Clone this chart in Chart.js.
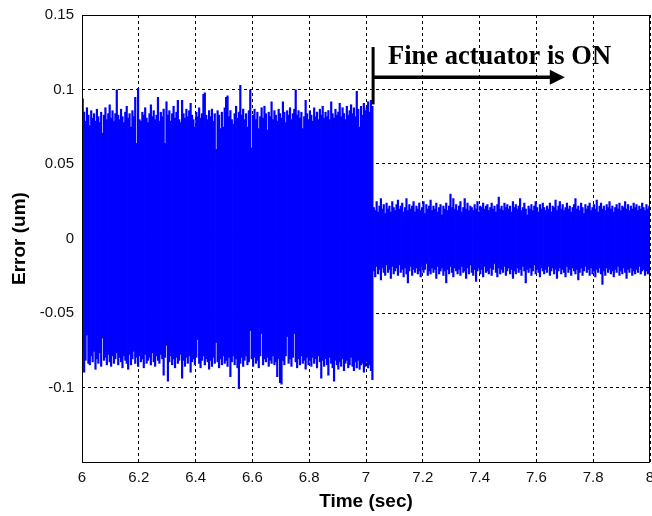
<!DOCTYPE html>
<html>
<head>
<meta charset="utf-8">
<title>Error (um) vs Time (sec)</title>
<script src="https://cdn.jsdelivr.net/npm/chart.js@4/dist/chart.umd.min.js"></script>
<style>
  html, body { margin: 0; padding: 0; background: #fff; }
  canvas { display: block; }
</style>
</head>
<body>
<canvas id="errorChart" width="652" height="516"></canvas>
<script>
// Axis ticks
const xTicks = [6, 6.2, 6.4, 6.6, 6.8, 7, 7.2, 7.4, 7.6, 7.8, 8];
const yTicks = [-0.15, -0.1, -0.05, 0, 0.05, 0.1, 0.15];

// Sampling of the tracking error record (sec)
const sampleStep = 0.005;
const coarseStart = 6.0;   // coarse actuator only
const fineStart = 7.025;   // fine actuator switched on

// Per-interval peak (high) and trough (low) of the error, um — coarse actuator only
const coarseHigh = [
  0.094, 0.085, 0.079, 0.088, 0.083, 0.076, 0.086, 0.081, 0.084, 0.079,
  0.087, 0.082, 0.078, 0.085, 0.071, 0.083, 0.088, 0.080, 0.084, 0.090,
  0.081, 0.086, 0.079, 0.084, 0.100, 0.083, 0.080, 0.087, 0.082, 0.078,
  0.085, 0.089, 0.081, 0.084, 0.075, 0.086, 0.082, 0.095, 0.064, 0.101,
  0.080, 0.079, 0.085, 0.083, 0.088, 0.081, 0.078, 0.084, 0.090, 0.082,
  0.086, 0.080, 0.083, 0.095, 0.079, 0.085, 0.082, 0.087, 0.064, 0.092,
  0.083, 0.086, 0.079, 0.084, 0.089, 0.081, 0.085, 0.093, 0.080, 0.078,
  0.093, 0.084, 0.081, 0.087, 0.082, 0.086, 0.091, 0.083, 0.080, 0.075,
  0.085, 0.082, 0.088, 0.081, 0.084, 0.097, 0.098, 0.083, 0.080, 0.086,
  0.082, 0.087, 0.079, 0.084, 0.060, 0.086, 0.083, 0.074, 0.085, 0.075,
  0.088, 0.095, 0.096, 0.082, 0.086, 0.080, 0.077, 0.084, 0.089, 0.081,
  0.085, 0.103, 0.083, 0.087, 0.080, 0.084, 0.075, 0.086, 0.100, 0.061,
  0.083, 0.087, 0.080, 0.085, 0.074, 0.082, 0.088, 0.081, 0.089, 0.084,
  0.073, 0.085, 0.082, 0.092, 0.080, 0.086, 0.083, 0.079, 0.087, 0.084,
  0.081, 0.092, 0.085, 0.078, 0.086, 0.083, 0.088, 0.080, 0.084, 0.087,
  0.100, 0.083, 0.086, 0.081, 0.085, 0.074, 0.082, 0.093, 0.084, 0.080,
  0.086, 0.083, 0.079, 0.088, 0.082, 0.085, 0.080, 0.087, 0.083, 0.089,
  0.081, 0.085, 0.082, 0.086, 0.080, 0.092, 0.084, 0.081, 0.087, 0.083,
  0.085, 0.091, 0.082, 0.088, 0.084, 0.080, 0.089, 0.083, 0.086, 0.090,
  0.084, 0.088, 0.082, 0.099, 0.087, 0.075, 0.089, 0.083, 0.091, 0.086,
  0.088, 0.092, 0.085, 0.093, 0.089
];
const coarseLow = [
  -0.078, -0.090, -0.082, -0.065, -0.084, -0.085, -0.079, -0.083, -0.076, -0.088,
  -0.081, -0.084, -0.077, -0.086, -0.067, -0.082, -0.080, -0.085, -0.078, -0.083,
  -0.086, -0.079, -0.084, -0.081, -0.077, -0.085, -0.080, -0.083, -0.087, -0.079,
  -0.082, -0.084, -0.088, -0.078, -0.085, -0.081, -0.076, -0.084, -0.080, -0.086,
  -0.079, -0.083, -0.081, -0.087, -0.078, -0.084, -0.082, -0.080, -0.085, -0.077,
  -0.083, -0.086, -0.079, -0.082, -0.084, -0.078, -0.081, -0.092, -0.080, -0.072,
  -0.096, -0.083, -0.079, -0.085, -0.081, -0.087, -0.080, -0.084, -0.082, -0.078,
  -0.094, -0.082, -0.086, -0.080, -0.084, -0.079, -0.090, -0.083, -0.081, -0.085,
  -0.080, -0.068, -0.084, -0.087, -0.082, -0.079, -0.085, -0.081, -0.083, -0.088,
  -0.082, -0.086, -0.080, -0.084, -0.070, -0.083, -0.087, -0.081, -0.085, -0.079,
  -0.084, -0.082, -0.086, -0.080, -0.093, -0.083, -0.079, -0.085, -0.081, -0.087,
  -0.101, -0.084, -0.080, -0.086, -0.082, -0.079, -0.085, -0.083, -0.062, -0.081,
  -0.086, -0.080, -0.084, -0.082, -0.087, -0.079, -0.064, -0.085, -0.081, -0.083,
  -0.080, -0.086, -0.082, -0.084, -0.079, -0.085, -0.083, -0.093, -0.081, -0.097,
  -0.098, -0.082, -0.085, -0.079, -0.066, -0.084, -0.081, -0.086, -0.080, -0.064,
  -0.083, -0.087, -0.081, -0.085, -0.079, -0.084, -0.082, -0.088, -0.080, -0.085,
  -0.082, -0.086, -0.080, -0.084, -0.081, -0.087, -0.079, -0.083, -0.094, -0.082,
  -0.086, -0.081, -0.085, -0.092, -0.080, -0.084, -0.087, -0.096, -0.082, -0.085,
  -0.088, -0.083, -0.086, -0.081, -0.089, -0.084, -0.082, -0.087, -0.085, -0.080,
  -0.086, -0.089, -0.083, -0.087, -0.082, -0.088, -0.085, -0.084, -0.090, -0.086,
  -0.083, -0.087, -0.085, -0.089, -0.095
];

// Per-interval peak (high) and trough (low) of the error, um — fine actuator on
const fineHigh = [
  0.021, 0.019, 0.025, 0.018, 0.022, 0.027, 0.020, 0.023, 0.017, 0.024,
  0.020, 0.022, 0.018, 0.025, 0.021, 0.019, 0.023, 0.026, 0.020, 0.022,
  0.024, 0.018, 0.021, 0.027, 0.019, 0.023, 0.020, 0.022, 0.025, 0.018,
  0.022, 0.020, 0.024, 0.019, 0.021, 0.025, 0.017, 0.023, 0.020, 0.022,
  0.026, 0.019, 0.022, 0.020, 0.024, 0.018, 0.021, 0.023, 0.016, 0.022,
  0.020, 0.024, 0.019, 0.022, 0.030, 0.021, 0.027, 0.020, 0.023, 0.019,
  0.022, 0.025, 0.018, 0.021, 0.027, 0.020, 0.024, 0.019, 0.022, 0.021,
  0.019, 0.023, 0.020, 0.025, 0.018, 0.022, 0.021, 0.024, 0.020, 0.022,
  0.023, 0.019, 0.021, 0.024, 0.020, 0.022, 0.018, 0.023, 0.028, 0.020,
  0.022, 0.019, 0.024, 0.021, 0.023, 0.020, 0.022, 0.018, 0.025, 0.021,
  0.023, 0.020, 0.022, 0.027, 0.019, 0.021, 0.024, 0.020, 0.016, 0.022,
  0.020, 0.023, 0.019, 0.022, 0.025, 0.021, 0.018, 0.023, 0.020, 0.024,
  0.021, 0.019, 0.022, 0.020, 0.024, 0.018, 0.022, 0.021, 0.026, 0.019,
  0.022, 0.025, 0.020, 0.023, 0.019, 0.021, 0.024, 0.020, 0.022, 0.018,
  0.021, 0.023, 0.027, 0.020, 0.022, 0.019, 0.024, 0.021, 0.017, 0.023,
  0.020, 0.022, 0.024, 0.019, 0.021, 0.023, 0.020, 0.026, 0.018, 0.022,
  0.024, 0.020, 0.022, 0.019, 0.023, 0.021, 0.025, 0.020, 0.022, 0.018,
  0.021, 0.023, 0.020, 0.024, 0.019, 0.022, 0.021, 0.025, 0.020, 0.023,
  0.019, 0.022, 0.020, 0.024, 0.021, 0.023, 0.019, 0.022, 0.020, 0.024,
  0.021, 0.019, 0.023, 0.020, 0.022
];
const fineLow = [
  -0.022, -0.026, -0.019, -0.024, -0.021, -0.028, -0.020, -0.023, -0.025, -0.018,
  -0.023, -0.021, -0.027, -0.019, -0.024, -0.022, -0.020, -0.025, -0.018, -0.023,
  -0.021, -0.026, -0.020, -0.024, -0.030, -0.022, -0.019, -0.025, -0.021, -0.023,
  -0.020, -0.024, -0.022, -0.026, -0.019, -0.023, -0.021, -0.017, -0.025, -0.022,
  -0.024, -0.020, -0.023, -0.021, -0.027, -0.019, -0.024, -0.022, -0.020, -0.025,
  -0.022, -0.030, -0.021, -0.024, -0.019, -0.023, -0.026, -0.020, -0.022, -0.024,
  -0.021, -0.025, -0.019, -0.023, -0.022, -0.027, -0.020, -0.024, -0.018, -0.023,
  -0.025, -0.021, -0.029, -0.022, -0.020, -0.024, -0.021, -0.026, -0.019, -0.023,
  -0.022, -0.024, -0.020, -0.025, -0.021, -0.017, -0.023, -0.026, -0.020, -0.024,
  -0.021, -0.023, -0.019, -0.025, -0.022, -0.020, -0.024, -0.021, -0.027, -0.022,
  -0.024, -0.020, -0.023, -0.021, -0.025, -0.019, -0.022, -0.030, -0.021, -0.023,
  -0.020, -0.025, -0.022, -0.018, -0.024, -0.021, -0.023, -0.026, -0.020, -0.022,
  -0.024, -0.021, -0.023, -0.019, -0.025, -0.022, -0.020, -0.024, -0.021, -0.027,
  -0.022, -0.020, -0.024, -0.021, -0.023, -0.026, -0.019, -0.023, -0.021, -0.025,
  -0.020, -0.022, -0.024, -0.021, -0.028, -0.023, -0.020, -0.025, -0.022, -0.019,
  -0.023, -0.021, -0.025, -0.020, -0.024, -0.022, -0.026, -0.021, -0.023, -0.020,
  -0.024, -0.031, -0.022, -0.025, -0.020, -0.023, -0.021, -0.024, -0.022, -0.026,
  -0.021, -0.023, -0.019, -0.025, -0.022, -0.024, -0.020, -0.023, -0.027, -0.021,
  -0.023, -0.020, -0.025, -0.022, -0.024, -0.021, -0.023, -0.019, -0.024, -0.022,
  -0.021, -0.025, -0.022, -0.024, -0.023
];

// Annotation marking the switch-on moment (data units)
const noteText = 'Fine actuator is ON';
const noteBarTop = 0.1285;
const noteBarBottom = 0.090;
const noteArrowY = 0.1083;
const noteArrowEnd = 7.70;
const noteTextX = 7.0775;
const noteTextY = 0.1174;

// Each sampling interval spans its trough-to-peak range of the error
function errorRanges(start, highs, lows) {
  return highs.map((h, i) => ({
    x: start + (i + 0.5) * sampleStep,
    y: [lows[i], h]
  }));
}
const ranges = errorRanges(coarseStart, coarseHigh, coarseLow)
  .concat(errorRanges(fineStart, fineHigh, fineLow));

const axisFont = { family: '"Liberation Sans", Arial, Helvetica, sans-serif', size: 15 };
const titleFont = { family: '"Liberation Sans", Arial, Helvetica, sans-serif', size: 19, weight: 'bold' };

// Keep the plotting box fixed regardless of tick label overhang
function noOverhang(s) {
  s.paddingLeft = 0;
  s.paddingRight = 0;
  s.paddingTop = 0;
  s.paddingBottom = 0;
}

// Solid box around the plotting area
const boxPlugin = {
  id: 'axesBox',
  afterDraw(chart) {
    const { ctx, chartArea: a } = chart;
    ctx.save();
    ctx.strokeStyle = '#000';
    ctx.lineWidth = 1;
    ctx.setLineDash([]);
    ctx.strokeRect(a.left + 0.5, a.top + 0.5, a.right - a.left - 1, a.bottom - a.top);
    ctx.restore();
  }
};

// Switch-on marker: vertical bar, arrow and label
const notePlugin = {
  id: 'switchNote',
  afterDraw(chart) {
    const { ctx } = chart;
    const xs = chart.scales.x, ys = chart.scales.y;
    const x0 = xs.getPixelForValue(fineStart);
    const yTop = ys.getPixelForValue(noteBarTop);
    const yBot = ys.getPixelForValue(noteBarBottom);
    const yArrow = ys.getPixelForValue(noteArrowY);
    const xTip = xs.getPixelForValue(noteArrowEnd);
    ctx.save();
    ctx.setLineDash([]);
    ctx.strokeStyle = '#000';
    ctx.fillStyle = '#000';
    ctx.lineWidth = 3;
    ctx.beginPath();
    ctx.moveTo(x0, yTop);
    ctx.lineTo(x0, yBot);
    ctx.stroke();
    ctx.lineWidth = 3.5;
    ctx.beginPath();
    ctx.moveTo(x0, yArrow);
    ctx.lineTo(xTip - 12, yArrow);
    ctx.stroke();
    ctx.beginPath();
    ctx.moveTo(xTip, yArrow);
    ctx.lineTo(xTip - 15, yArrow - 7.5);
    ctx.lineTo(xTip - 15, yArrow + 7.5);
    ctx.closePath();
    ctx.fill();
    ctx.font = 'bold 26.5px "Liberation Serif", "Times New Roman", serif';
    ctx.textAlign = 'left';
    ctx.textBaseline = 'alphabetic';
    ctx.fillText(noteText, xs.getPixelForValue(noteTextX), ys.getPixelForValue(noteTextY));
    ctx.restore();
  }
};

new Chart(document.getElementById('errorChart'), {
  type: 'bar',
  data: {
    datasets: [{
      data: ranges,
      backgroundColor: '#0000ff',
      borderWidth: 0,
      // slightly wider than the sample spacing so neighbouring intervals merge
      barThickness: 2.2,
      inflateAmount: 0,
      grouped: false
    }]
  },
  options: {
    responsive: false,
    animation: false,
    events: [],
    layout: { padding: { top: 15, right: 2, left: 0, bottom: 0 } },
    plugins: {
      legend: { display: false },
      tooltip: { enabled: false },
      title: { display: false }
    },
    scales: {
      x: {
        type: 'linear',
        min: 6,
        max: 8,
        offset: false,
        afterBuildTicks: s => { s.ticks = xTicks.map(v => ({ value: v })); },
        afterFit: s => { s.height = 54; noOverhang(s); },
        ticks: {
          font: axisFont,
          color: '#111',
          padding: 7,
          maxRotation: 0,
          autoSkip: false,
          callback: v => String(v)
        },
        grid: { color: '#000', lineWidth: 1, drawTicks: false, offset: false },
        border: { display: false, dash: [3, 3] },
        title: {
          display: true,
          text: 'Time (sec)',
          font: titleFont,
          color: '#000',
          padding: { top: 0, bottom: 3 }
        }
      },
      y: {
        type: 'linear',
        min: -0.15,
        max: 0.15,
        afterBuildTicks: s => { s.ticks = yTicks.map(v => ({ value: v })); },
        afterFit: s => { s.width = 82; noOverhang(s); },
        ticks: {
          font: axisFont,
          color: '#111',
          padding: 8,
          autoSkip: false,
          callback: v => (Math.abs(v + 0.15) < 1e-9 ? '' : String(v))
        },
        grid: { color: '#000', lineWidth: 1, drawTicks: false },
        border: { display: false, dash: [3, 3] },
        title: {
          display: true,
          text: 'Error (um)',
          font: titleFont,
          color: '#000',
          padding: { top: 8, bottom: 0 }
        }
      }
    }
  },
  plugins: [boxPlugin, notePlugin]
});
</script>
</body>
</html>
